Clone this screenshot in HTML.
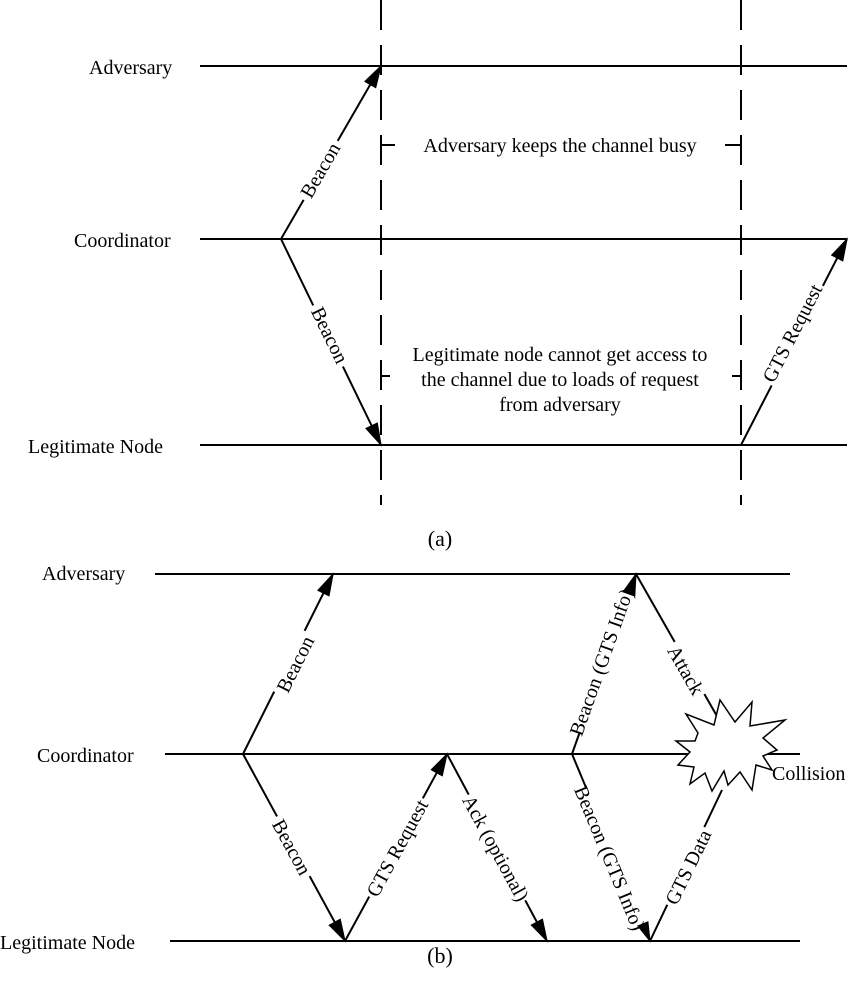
<!DOCTYPE html>
<html><head><meta charset="utf-8"><style>
html,body{margin:0;padding:0;background:#fff;}
svg{display:block;}
text{font-family:"Liberation Serif",serif;font-size:20px;fill:#000;}
</style></head><body>
<svg width="854" height="1000" viewBox="0 0 854 1000" xmlns="http://www.w3.org/2000/svg">
<defs>
<marker id="ar" markerWidth="24" markerHeight="14" refX="22" refY="7" orient="auto" markerUnits="userSpaceOnUse">
<path d="M0,0 L24,7 L0,14 Z" fill="#000"/></marker>
</defs>
<g stroke="#000" stroke-width="2" fill="none">
<!-- (a) -->
<line x1="200" y1="66" x2="847" y2="66"/>
<line x1="200" y1="239" x2="847" y2="239"/>
<line x1="200" y1="445" x2="847" y2="445"/>
<line x1="381" y1="0" x2="381" y2="505" stroke-dasharray="30,15"/>
<line x1="741" y1="0" x2="741" y2="505" stroke-dasharray="30,15"/>
<line x1="281" y1="239" x2="381" y2="66" marker-end="url(#ar)"/>
<line x1="281" y1="239" x2="381" y2="445" marker-end="url(#ar)"/>
<line x1="741" y1="445" x2="847" y2="239" marker-end="url(#ar)"/>
<line x1="381" y1="145" x2="741" y2="145"/>
<line x1="381" y1="376" x2="741" y2="376"/>
<!-- (b) -->
<line x1="155" y1="574" x2="790" y2="574"/>
<line x1="165" y1="754" x2="800" y2="754"/>
<line x1="170" y1="941" x2="800" y2="941"/>
<line x1="243" y1="754" x2="333" y2="574" marker-end="url(#ar)"/>
<line x1="243" y1="754" x2="345" y2="941" marker-end="url(#ar)"/>
<line x1="345" y1="941" x2="447" y2="754" marker-end="url(#ar)"/>
<line x1="447" y1="754" x2="547" y2="941" marker-end="url(#ar)"/>
<line x1="572" y1="754" x2="636" y2="574" marker-end="url(#ar)"/>
<line x1="572" y1="754" x2="650" y2="941" marker-end="url(#ar)"/>
<line x1="636" y1="574" x2="722" y2="725"/>
<line x1="650" y1="941" x2="722" y2="790"/>
<polygon fill="#fff" stroke-width="1.5" points="698,733 686,714 714,725 720,700 735,722 752,702 750,726 785,720 763,738 777,750 763,756 772,770 756,765 752,790 740,772 728,785 724,771 712,791 705,773 690,784 694,767 678,765 690,752 676,741 695,741"/>
</g>
<!-- labels with white backgrounds -->
<g>
<rect x="395" y="132" width="330" height="26" fill="#fff"/>
<text x="560" y="152" text-anchor="middle">Adversary keeps the channel busy</text>
<rect x="390" y="340" width="342" height="78" fill="#fff"/>
<text x="560" y="361" text-anchor="middle">Legitimate node cannot get access to</text>
<text x="560" y="386" text-anchor="middle">the channel due to loads of request</text>
<text x="560" y="411" text-anchor="middle">from adversary</text>
</g>
<g transform="translate(320,170) rotate(-60)"><rect x="-34" y="-12" width="68" height="24" fill="#fff"/><text text-anchor="middle" y="7">Beacon</text></g>
<g transform="translate(330,335) rotate(64)"><rect x="-34" y="-12" width="68" height="24" fill="#fff"/><text text-anchor="middle" y="7">Beacon</text></g>
<g transform="translate(792,333) rotate(-62.8)"><rect x="-56" y="-12" width="112" height="24" fill="#fff"/><text text-anchor="middle" y="7">GTS Request</text></g>
<g transform="translate(295,664) rotate(-63.4)"><rect x="-34" y="-12" width="68" height="24" fill="#fff"/><text text-anchor="middle" y="7">Beacon</text></g>
<g transform="translate(292,847) rotate(61.4)"><rect x="-34" y="-12" width="68" height="24" fill="#fff"/><text text-anchor="middle" y="7">Beacon</text></g>
<g transform="translate(397,848) rotate(-61.4)"><rect x="-56" y="-12" width="112" height="24" fill="#fff"/><text text-anchor="middle" y="7">GTS Request</text></g>
<g transform="translate(496,848) rotate(61.4)"><rect x="-60" y="-12" width="120" height="24" fill="#fff"/><text text-anchor="middle" y="7">Ack (optional)</text></g>
<g transform="translate(601,662) rotate(-70.4)"><rect x="-73" y="-12" width="146" height="24" fill="#fff"/><text text-anchor="middle" y="7">Beacon (GTS Info)</text></g>
<g transform="translate(610,858) rotate(67.4)"><rect x="-73" y="-12" width="146" height="24" fill="#fff"/><text text-anchor="middle" y="7">Beacon (GTS Info)</text></g>
<g transform="translate(686,670) rotate(60.3)"><rect x="-30" y="-12" width="60" height="24" fill="#fff"/><text text-anchor="middle" y="7">Attack</text></g>
<g transform="translate(688,867) rotate(-64)"><rect x="-43" y="-12" width="86" height="24" fill="#fff"/><text text-anchor="middle" y="7">GTS Data</text></g>
<text x="89" y="74">Adversary</text>
<text x="74" y="247">Coordinator</text>
<text x="28" y="453">Legitimate Node</text>
<text x="440" y="546" text-anchor="middle" style="font-size:22px">(a)</text>
<text x="42" y="580">Adversary</text>
<text x="37" y="762">Coordinator</text>
<text x="0" y="949">Legitimate Node</text>
<text x="772" y="780">Collision</text>
<text x="440" y="963" text-anchor="middle" style="font-size:22px">(b)</text>
</svg>
</body></html>
